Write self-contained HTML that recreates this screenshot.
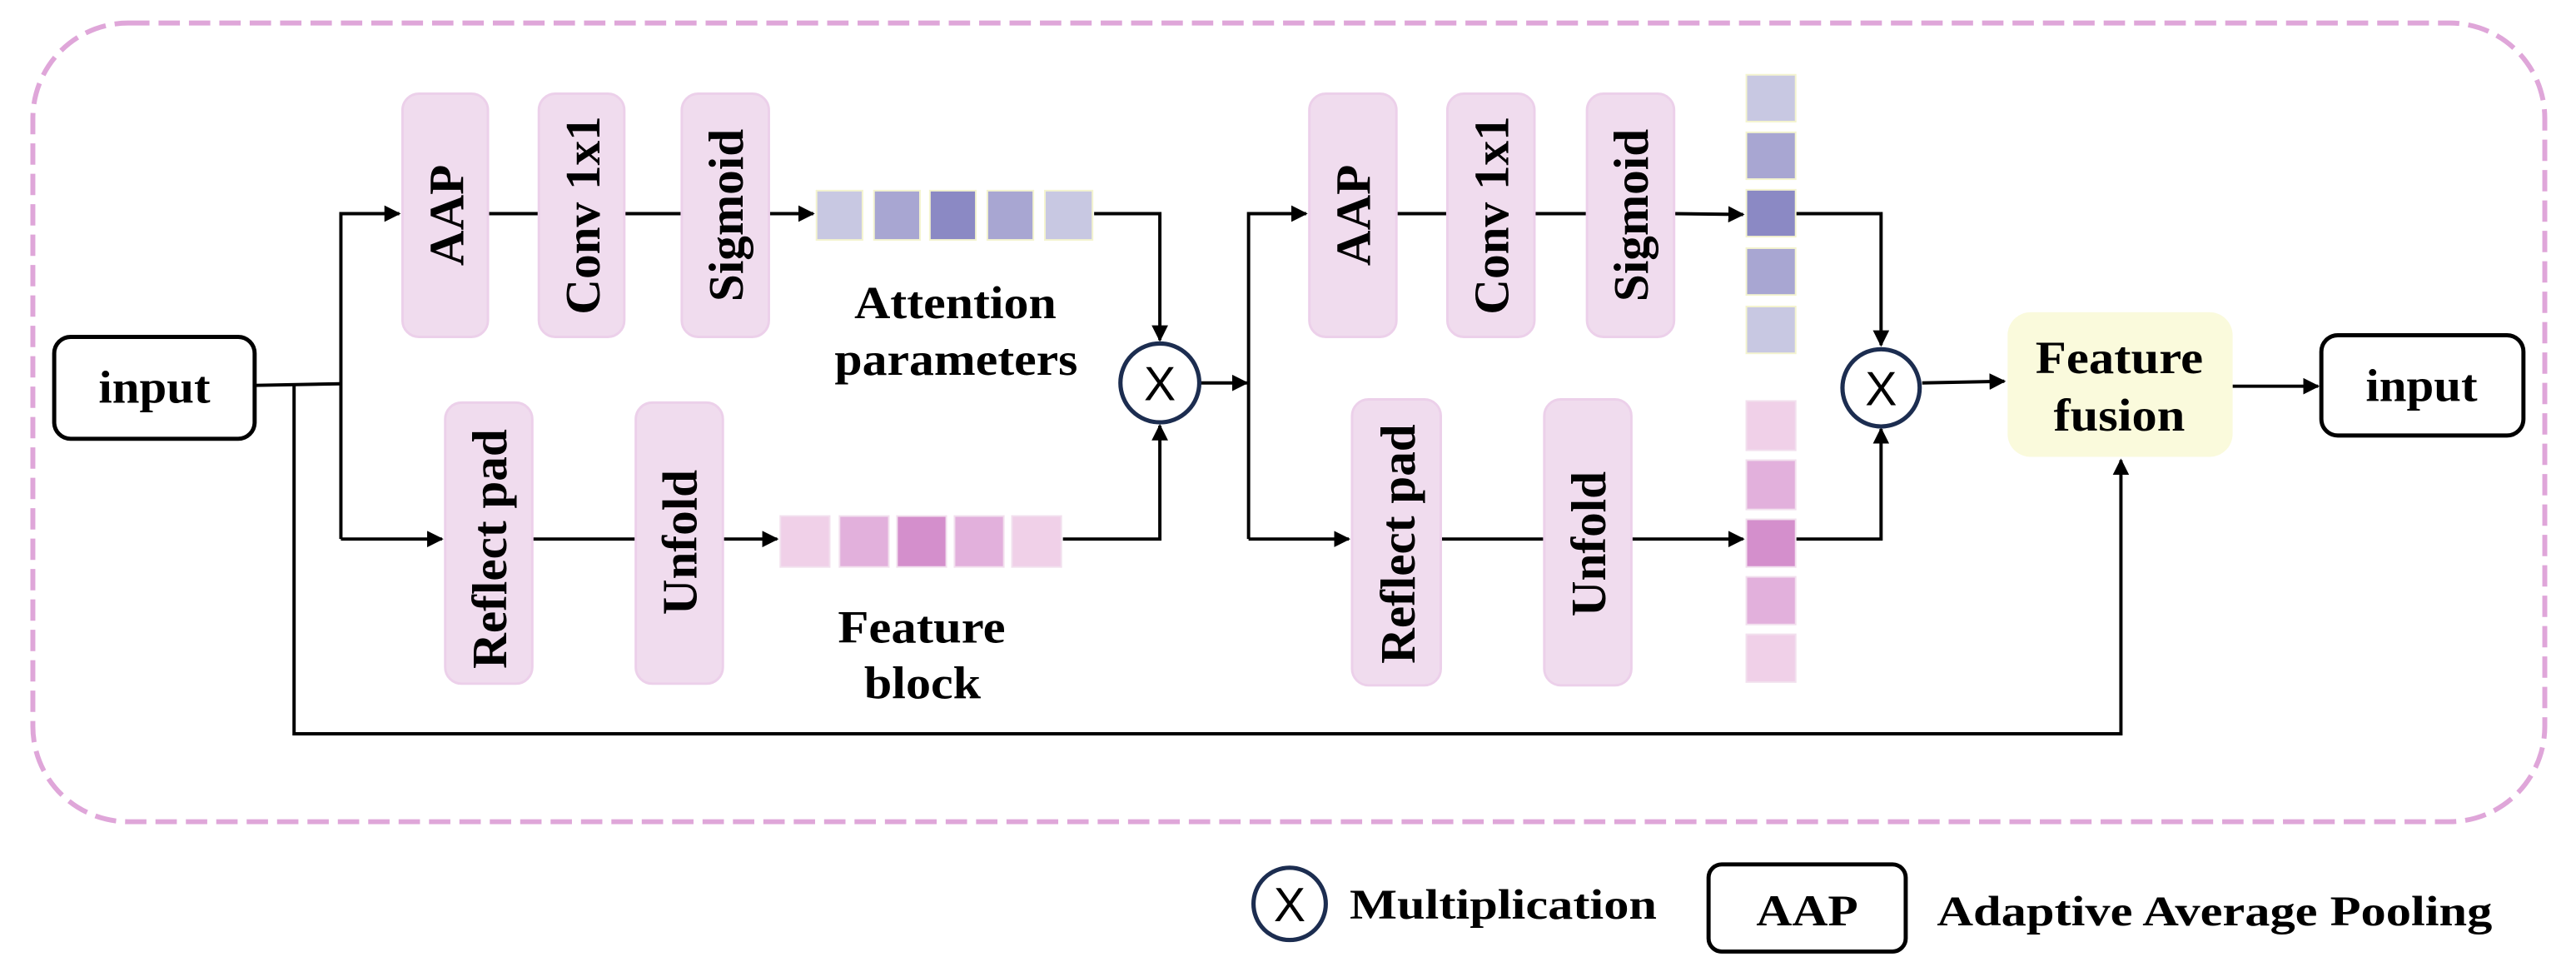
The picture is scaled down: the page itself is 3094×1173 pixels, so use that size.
<!DOCTYPE html>
<html><head><meta charset="utf-8"><style>html,body{margin:0;padding:0;background:#fff}svg{display:block}</style></head>
<body>
<svg width="3094" height="1173" viewBox="0 0 1568 594.5" preserveAspectRatio="none" xmlns="http://www.w3.org/2000/svg">
<defs>
<marker id="a" markerWidth="10" markerHeight="10" refX="9" refY="5" orient="auto" markerUnits="userSpaceOnUse"><path d="M0,0 L10,5 L0,10 z" fill="#000"/></marker>
</defs>
<rect x="20" y="14" width="1529" height="486" rx="58" fill="none" stroke="#dfa6d9" stroke-width="3" stroke-dasharray="13,5.5"/>
<g font-family="Liberation Serif, serif" font-weight="bold" fill="#000">
<!-- input left -->
<rect x="33" y="205" width="122" height="62" rx="10" fill="#fff" stroke="#000" stroke-width="2.5"/>
<text x="94" y="245" font-size="28" text-anchor="middle" textLength="68" lengthAdjust="spacingAndGlyphs">input</text>
<!-- right input -->
<rect x="1413" y="204" width="123" height="61" rx="10" fill="#fff" stroke="#000" stroke-width="2.5"/>
<text x="1474" y="244" font-size="28" text-anchor="middle" textLength="68" lengthAdjust="spacingAndGlyphs">input</text>
<!-- connectors -->
<g stroke="#000" stroke-width="2" fill="none">
<path d="M155,234.5 L207.5,233.5"/>
<path d="M207.5,328 L207.5,130 L243,130" marker-end="url(#a)"/>
<path d="M207.5,328 L269,328" marker-end="url(#a)"/>
<path d="M179,234 L179,446.5 L1291,446.5 L1291,280" marker-end="url(#a)"/>
<path d="M297,130 L328,130 M380,130 L415,130"/>
<path d="M468,130 L495,130" marker-end="url(#a)"/>
<path d="M324,328 L387,328"/>
<path d="M440,328 L473,328" marker-end="url(#a)"/>
<path d="M666,130 L706,130 L706,207" marker-end="url(#a)"/>
<path d="M647,328 L706,328 L706,259" marker-end="url(#a)"/>
<path d="M731,233 L759,233" marker-end="url(#a)"/>
<path d="M760,328 L760,130 L795,130" marker-end="url(#a)"/>
<path d="M760,328 L821,328" marker-end="url(#a)"/>
<path d="M850,130 L881,130 M934,130 L966,130"/>
<path d="M1019,130 L1061,130.5" marker-end="url(#a)"/>
<path d="M877,328 L940,328"/>
<path d="M993,328 L1061,328" marker-end="url(#a)"/>
<path d="M1093,130 L1145,130 L1145,210" marker-end="url(#a)"/>
<path d="M1093,328 L1145,328 L1145,261" marker-end="url(#a)"/>
<path d="M1170,233 L1220,232" marker-end="url(#a)"/>
<path d="M1359,235 L1411,235" marker-end="url(#a)"/>
</g>
<!-- pink boxes -->
<g fill="#f0dcee" stroke="#ecd0ea" stroke-width="1.5">
<rect x="245" y="57" width="52" height="148" rx="10"/>
<rect x="328" y="57" width="52" height="148" rx="10"/>
<rect x="415" y="57" width="53" height="148" rx="10"/>
<rect x="271" y="245" width="53" height="171" rx="10"/>
<rect x="387" y="245" width="53" height="171" rx="10"/>
<rect x="797" y="57" width="53" height="148" rx="10"/>
<rect x="881" y="57" width="53" height="148" rx="10"/>
<rect x="966" y="57" width="53" height="148" rx="10"/>
<rect x="823" y="243" width="54" height="174" rx="10"/>
<rect x="940" y="243" width="53" height="174" rx="10"/>
</g>
<g font-size="30">
<text transform="translate(282,131) rotate(-90)" text-anchor="middle">AAP</text>
<text transform="translate(365,131) rotate(-90)" text-anchor="middle">Conv 1x1</text>
<text transform="translate(452,131) rotate(-90)" text-anchor="middle">Sigmoid</text>
<text transform="translate(308,334) rotate(-90)" text-anchor="middle">Reflect pad</text>
<text transform="translate(424,330) rotate(-90)" text-anchor="middle">Unfold</text>
<text transform="translate(834,131) rotate(-90)" text-anchor="middle">AAP</text>
<text transform="translate(918,131) rotate(-90)" text-anchor="middle">Conv 1x1</text>
<text transform="translate(1003,131) rotate(-90)" text-anchor="middle">Sigmoid</text>
<text transform="translate(861,331) rotate(-90)" text-anchor="middle">Reflect pad</text>
<text transform="translate(977,331) rotate(-90)" text-anchor="middle">Unfold</text>
</g>
<!-- attention squares horizontal -->
<g stroke="#f4f4cf" stroke-width="1">
<rect x="497" y="116" width="28" height="30" fill="#c8c8e2"/>
<rect x="532" y="116" width="28" height="30" fill="#a8a6d2"/>
<rect x="566" y="116" width="28" height="30" fill="#8b89c4"/>
<rect x="601" y="116" width="28" height="30" fill="#a8a6d2"/>
<rect x="636" y="116" width="29" height="30" fill="#c8c8e2"/>
<rect x="1063" y="45.5" width="30" height="28.5" fill="#c8c8e2"/>
<rect x="1063" y="80.5" width="30" height="28.5" fill="#a8a6d2"/>
<rect x="1063" y="115.5" width="30" height="28.5" fill="#8b89c4"/>
<rect x="1063" y="151" width="30" height="28.5" fill="#a8a6d2"/>
<rect x="1063" y="186.5" width="30" height="28.5" fill="#c8c8e2"/>
</g>
<g stroke="#f2e0ee" stroke-width="1">
<rect x="475" y="314" width="30" height="31" fill="#f0d0e8"/>
<rect x="511" y="314" width="30" height="31" fill="#e2b0dc"/>
<rect x="546" y="314" width="30" height="31" fill="#d48fcc"/>
<rect x="581" y="314" width="30" height="31" fill="#e2b0dc"/>
<rect x="616" y="314" width="30" height="31" fill="#f0d0e8"/>
<rect x="1063" y="244" width="30" height="30" fill="#f0d0e8"/>
<rect x="1063" y="280" width="30" height="30" fill="#e2b0dc"/>
<rect x="1063" y="316" width="30" height="29" fill="#d48fcc"/>
<rect x="1063" y="351" width="30" height="29" fill="#e2b0dc"/>
<rect x="1063" y="386" width="30" height="29" fill="#f0d0e8"/>
</g>
<!-- labels -->
<g font-size="28" text-anchor="middle">
<text x="581.5" y="193.5" textLength="123" lengthAdjust="spacingAndGlyphs">Attention</text>
<text x="582" y="228" textLength="148" lengthAdjust="spacingAndGlyphs">parameters</text>
<text x="561" y="391" textLength="102" lengthAdjust="spacingAndGlyphs">Feature</text>
<text x="561.5" y="425" textLength="71" lengthAdjust="spacingAndGlyphs">block</text>
</g>
<!-- feature fusion -->
<rect x="1222" y="190" width="137" height="88" rx="14" fill="#fafadc"/>
<text x="1290" y="227" font-size="28" text-anchor="middle" textLength="102" lengthAdjust="spacingAndGlyphs">Feature</text>
<text x="1290" y="262" font-size="28" text-anchor="middle" textLength="80" lengthAdjust="spacingAndGlyphs">fusion</text>
<!-- circles -->
<g fill="#fff" stroke="#1c2d50" stroke-width="2.6">
<circle cx="706" cy="233" r="24"/>
<circle cx="1145" cy="236" r="23.5"/>
<circle cx="785" cy="550" r="22"/>
</g>
<g font-family="Liberation Sans, sans-serif" font-weight="normal" font-size="29" text-anchor="middle">
<text x="706" y="243.5">X</text>
<text x="1145" y="246.5">X</text>
<text x="785" y="560.5">X</text>
</g>
<!-- legend -->
<text x="821.5" y="559" font-size="26" textLength="187" lengthAdjust="spacingAndGlyphs">Multiplication</text>
<rect x="1040" y="526" width="120" height="53" rx="8" fill="#fff" stroke="#000" stroke-width="2.5"/>
<text x="1100" y="563" font-size="27" text-anchor="middle" textLength="62" lengthAdjust="spacingAndGlyphs">AAP</text>
<text x="1179" y="563" font-size="26" textLength="338" lengthAdjust="spacingAndGlyphs">Adaptive Average Pooling</text>
</g>
</svg>
</body></html>
